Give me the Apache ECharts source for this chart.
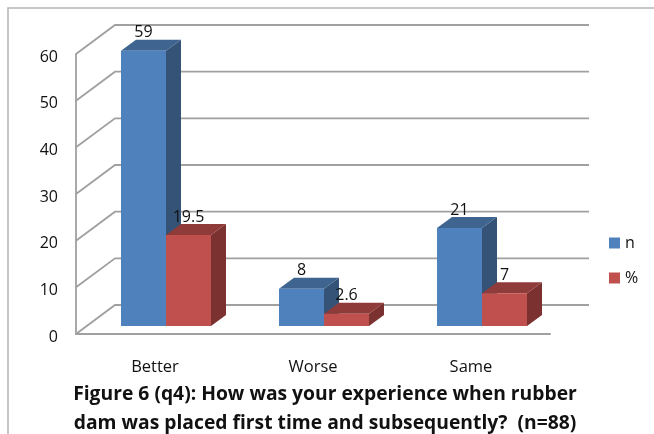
<!DOCTYPE html>
<html>
<head>
<meta charset="utf-8">
<title>Figure 6 (q4)</title>
<script src="https://cdn.jsdelivr.net/npm/echarts@6/dist/echarts.min.js"></script>
<style>
  html, body { margin: 0; padding: 0; background: #fff; }
  #chart { width: 654px; height: 434px; }
</style>
</head>
<body>
<div id="chart"></div>
<script>
const categories = ['Better', 'Worse', 'Same']
const nValues = [59, 8, 21]
const pctValues = [19.5, 2.6, 7]
const yTicks = [0, 10, 20, 30, 40, 50, 60]

// fake 3D: the grid is the front plane, the wall sits behind it, bars sit in between
const wallDepth = [39, -29]
const barInset = [11, -8]
const barDepth = [15, -11]
const barWidth = 45
const labelFont = '"Open Sans", "Noto Sans", sans-serif'

const chart = echarts.init(document.getElementById('chart'), null, { renderer: 'canvas' })

const poly = (points, fill) => ({
  type: 'polygon',
  shape: { points },
  style: { fill }
})

// one bar series; side is -1 for the left bar of a category, 0 for the right one
const renderBar = (side, front, top, right) => (params, api) => {
  const base = api.coord([api.value(0), 0])
  const head = api.coord([api.value(0), api.value(1)])
  const x0 = base[0] + side * barWidth + barInset[0]
  const x1 = x0 + barWidth
  const y0 = base[1] + barInset[1]
  const y1 = head[1] + barInset[1]
  const [dx, dy] = barDepth
  return {
    type: 'group',
    children: [
      poly([[x1, y0], [x1 + dx, y0 + dy], [x1 + dx, y1 + dy], [x1, y1]], right),
      poly([[x0, y1], [x1, y1], [x1 + dx, y1 + dy], [x0 + dx, y1 + dy]], top),
      poly([[x0, y0], [x1, y0], [x1, y1], [x0, y1]], front),
      {
        type: 'text',
        z2: 50,
        style: {
          text: String(api.value(1)),
          x: (x0 + x1) / 2,
          y: y1 - 18,
          align: 'center',
          verticalAlign: 'middle',
          fill: '#111',
          font: '16px ' + labelFont
        }
      }
    ]
  }
}

const renderWall = (params, api) => {
  const p = api.coord([0, api.value(0)])
  const left = params.coordSys.x
  const right = left + params.coordSys.width
  const [dx, dy] = wallDepth
  return {
    type: 'polyline',
    shape: { points: [[left, p[1]], [left + dx, p[1] + dy], [right + dx, p[1] + dy]] },
    style: { stroke: '#a0a0a0', lineWidth: 1.8, fill: null }
  }
}

const barData = (values) => values.map((v, i) => [i, v])

chart.setOption({
  animation: false,
  backgroundColor: '#fff',
  graphic: [
    {
      type: 'polyline',
      silent: true,
      shape: { points: [[8, 434], [8, 8], [654, 8]] },
      style: { stroke: '#b4b4b4', lineWidth: 1.5, fill: null }
    }
  ],
  title: {
    text: 'Figure 6 (q4): How was your experience when rubber\ndam was placed first time and subsequently?  (n=88)',
    left: 320,
    top: 375,
    textAlign: 'center',
    textStyle: {
      fontFamily: '"Open Sans", "Noto Sans", sans-serif',
      fontWeight: 'bold',
      fontSize: 19.3,
      lineHeight: 29,
      color: '#111'
    }
  },
  legend: {
    orient: 'vertical',
    left: 609,
    top: 235,
    padding: 0,
    itemWidth: 11,
    itemHeight: 11,
    itemGap: 19,
    icon: 'rect',
    data: ['n', '%'],
    textStyle: { fontFamily: labelFont, fontSize: 16, color: '#111', padding: [0, 0, 0, 0] }
  },
  grid: { left: 76, right: 104, top: 54, bottom: 100 },
  xAxis: {
    type: 'category',
    data: categories,
    axisTick: { show: false },
    axisLine: { lineStyle: { color: '#a0a0a0', width: 2 } },
    axisLabel: { fontFamily: labelFont, fontSize: 16.5, color: '#111', margin: 25 }
  },
  yAxis: {
    type: 'value',
    min: 0,
    max: 60,
    interval: 10,
    splitLine: { show: false },
    axisTick: { show: false },
    axisLine: { show: true, lineStyle: { color: '#a0a0a0', width: 1.8 } },
    axisLabel: { fontFamily: labelFont, fontSize: 16, color: '#111', margin: 18, verticalAlign: 'top', lineHeight: 6 }
  },
  series: [
    {
      type: 'custom',
      name: 'wall',
      silent: true,
      clip: false,
      z: 1,
      data: yTicks.map((v) => [v]),
      encode: { y: 0 },
      renderItem: renderWall
    },
    {
      type: 'custom',
      name: 'n',
      clip: false,
      z: 2,
      itemStyle: { color: '#4f81bd' },
      data: barData(nValues),
      encode: { x: 0, y: 1 },
      renderItem: renderBar(-1, '#4f81bd', '#3e648f', '#345376')
    },
    {
      type: 'custom',
      name: '%',
      clip: false,
      z: 3,
      itemStyle: { color: '#c0504d' },
      data: barData(pctValues),
      encode: { x: 0, y: 1 },
      renderItem: renderBar(0, '#c0504d', '#8f3b39', '#7a312f')
    }
  ]
})
</script>
</body>
</html>
